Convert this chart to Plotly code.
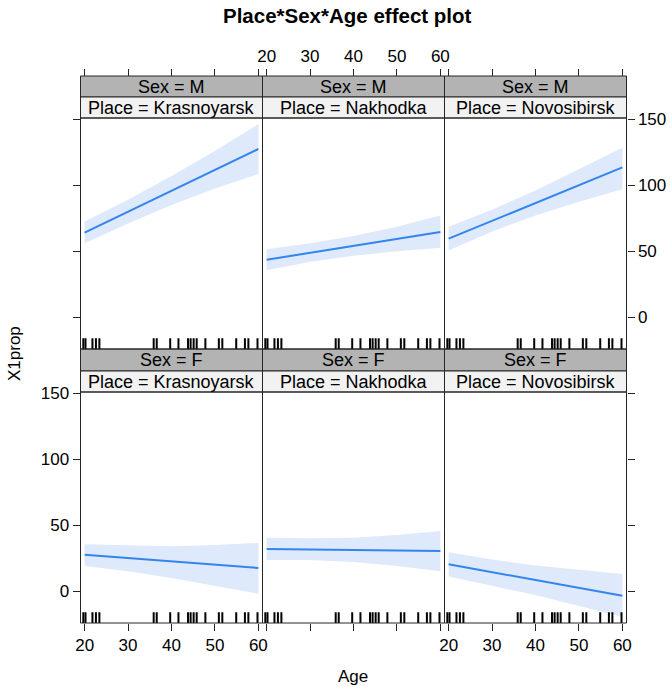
import plotly.graph_objects as go

# ---------------- data ----------------
places = ["Krasnoyarsk", "Nakhodka", "Novosibirsk"]
sexes = ["M", "F"]  # top row = M, bottom row = F
ages = [20, 30, 40, 50, 60]

fit_M_Krasnoyarsk = [64, 80, 96, 112, 127.5]
low_M_Krasnoyarsk = [56, 71, 85, 97.5, 108.5]
upp_M_Krasnoyarsk = [72.5, 89, 107, 126, 146.5]

fit_M_Nakhodka = [43.5, 48.8, 54, 59.3, 64.5]
low_M_Nakhodka = [35.5, 42, 46.5, 50, 52.5]
upp_M_Nakhodka = [51.5, 56, 61.5, 68.5, 77]

fit_M_Novosibirsk = [59.5, 73, 86.5, 100, 113.5]
low_M_Novosibirsk = [50.5, 65, 77, 87.5, 97]
upp_M_Novosibirsk = [68.5, 81.5, 96, 112, 128.5]

fit_F_Krasnoyarsk = [27.5, 25, 22.5, 20, 17.5]
low_F_Krasnoyarsk = [19, 15, 10, 4, -2]
upp_F_Krasnoyarsk = [35.5, 34.5, 34, 35, 36.5]

fit_F_Nakhodka = [32, 31.6, 31.2, 30.8, 30.4]
low_F_Nakhodka = [23.5, 23.5, 22, 19, 15]
upp_F_Nakhodka = [40.5, 40, 40.5, 42.5, 45.5]

fit_F_Novosibirsk = [20.3, 14.3, 8.4, 2.5, -3.5]
low_F_Novosibirsk = [11, 4, -3, -11, -19.5]
upp_F_Novosibirsk = [29.5, 24, 19.5, 16, 13]

rug_ages = [19.7, 20.2, 21.8, 22.6, 23.4, 35.9, 36.6, 39.7, 41.6, 43.8,
            44.4, 45.1, 45.8, 47.8, 50.9, 51.7, 54.9, 56.9, 57.7, 59.8]

x_ticks = [20, 30, 40, 50, 60]
y_ticks = [0, 50, 100, 150]
x_range = [19.05, 60.95]
y_range = [-24.2, 151]

series = {
    ("M", "Krasnoyarsk"): (fit_M_Krasnoyarsk, low_M_Krasnoyarsk, upp_M_Krasnoyarsk),
    ("M", "Nakhodka"): (fit_M_Nakhodka, low_M_Nakhodka, upp_M_Nakhodka),
    ("M", "Novosibirsk"): (fit_M_Novosibirsk, low_M_Novosibirsk, upp_M_Novosibirsk),
    ("F", "Krasnoyarsk"): (fit_F_Krasnoyarsk, low_F_Krasnoyarsk, upp_F_Krasnoyarsk),
    ("F", "Nakhodka"): (fit_F_Nakhodka, low_F_Nakhodka, upp_F_Nakhodka),
    ("F", "Novosibirsk"): (fit_F_Novosibirsk, low_F_Novosibirsk, upp_F_Novosibirsk),
}

# ---------------- geometry / style ----------------
W, H = 672, 687
FONT = "Liberation Sans, Arial, Helvetica, sans-serif"
FS = 17
FS_STRIP = 18
LINE_COL = "#3385EE"
BAND_COL = "rgba(200,218,248,0.6)"
BORDER = "#262626"

col_px = [(80.5, 262.5), (262.5, 444.5), (444.5, 626.5)]
row_plot_px = [(118, 349), (392, 623)]
row_sex_px = [(76, 97), (349, 371)]
row_place_px = [(97, 118), (371, 392)]


def px_x(p):
    return p / W


def px_y(p):
    return 1 - p / H


fig = go.Figure()
layout = dict(
    width=W, height=H,
    margin=dict(l=0, r=0, t=0, b=0, pad=0),
    paper_bgcolor="white", plot_bgcolor="rgba(0,0,0,0)",
    showlegend=False, hovermode=False,
    font=dict(family=FONT, size=FS, color="black"),
)
shapes = []
annotations = []

for r, sex in enumerate(sexes):
    for c, place in enumerate(places):
        k = r * 3 + c + 1
        xa = "x" if k == 1 else f"x{k}"
        ya = "y" if k == 1 else f"y{k}"
        fit, low, upp = series[(sex, place)]
        fig.add_trace(go.Scatter(
            x=ages + ages[::-1], y=upp + low[::-1], fill="toself",
            fillcolor=BAND_COL, line=dict(width=0), mode="lines",
            xaxis=xa, yaxis=ya, hoverinfo="skip"))
        fig.add_trace(go.Scatter(
            x=ages, y=fit, mode="lines", line=dict(color=LINE_COL, width=2),
            xaxis=xa, yaxis=ya, hoverinfo="skip"))

        x0, x1 = col_px[c]
        yt, yb = row_plot_px[r]
        bottom_row = r == 1
        xaxis = dict(
            domain=[px_x(x0), px_x(x1)], range=x_range, anchor=ya,
            showgrid=False, zeroline=False, showline=False,
            tickvals=x_ticks, ticks="outside" if bottom_row else "",
            ticklen=7, tickcolor=BORDER,
            showticklabels=bottom_row and c != 1,
            tickfont=dict(size=FS, family=FONT, color="black"),
            automargin=False,
        )
        yaxis = dict(
            domain=[px_y(yb), px_y(yt)], range=y_range, anchor=xa,
            showgrid=False, zeroline=False, showline=False,
            tickvals=y_ticks, ticks="outside" if c != 1 else "",
            ticklen=7, tickcolor=BORDER,
            side="right" if c == 2 else "left",
            showticklabels=(c == 0 and r == 1) or (c == 2 and r == 0),
            tickfont=dict(size=FS, family=FONT, color="black"),
            automargin=False,
        )
        layout["xaxis" if k == 1 else f"xaxis{k}"] = xaxis
        layout["yaxis" if k == 1 else f"yaxis{k}"] = yaxis

        # rug
        for a in rug_ages:
            shapes.append(dict(type="line", xref=xa, yref=f"{ya} domain",
                               x0=a, x1=a, y0=0, y1=0.047,
                               line=dict(color="black", width=2)))

        # panel border
        shapes.append(dict(type="rect", xref="paper", yref="paper",
                           x0=px_x(x0), x1=px_x(x1), y0=px_y(yb), y1=px_y(yt),
                           fillcolor="rgba(0,0,0,0)",
                           line=dict(color=BORDER, width=1), layer="above"))

        # strips
        for (st, sb), txt, fc in [
            (row_sex_px[r], f"Sex = {sex}", "#B3B3B3"),
            (row_place_px[r], f"Place = {place}", "#F2F2F2"),
        ]:
            shapes.append(dict(type="rect", xref="paper", yref="paper",
                               x0=px_x(x0), x1=px_x(x1), y0=px_y(sb), y1=px_y(st),
                               fillcolor=fc, line=dict(color=BORDER, width=1),
                               layer="below"))
            annotations.append(dict(xref="paper", yref="paper",
                                    x=px_x((x0 + x1) / 2), y=px_y((st + sb) / 2),
                                    text=txt, showarrow=False,
                                    xanchor="center", yanchor="middle",
                                    font=dict(size=FS_STRIP, family=FONT, color="black")))

# top tick axes above the strips
for c in range(3):
    k = 7 + c
    x0, x1 = col_px[c]
    fig.add_trace(go.Scatter(x=[40], y=[0], mode="markers",
                             marker=dict(opacity=0), xaxis=f"x{k}", yaxis="y",
                             hoverinfo="skip"))
    layout[f"xaxis{k}"] = dict(
        domain=[px_x(x0), px_x(x1)], range=x_range, anchor="free",
        position=px_y(76), side="top", showgrid=False, zeroline=False,
        showline=False, tickvals=x_ticks, ticks="outside", ticklen=7,
        tickcolor=BORDER, showticklabels=(c == 1),
        tickfont=dict(size=FS, family=FONT, color="black"),
        automargin=False,
    )

annotations.append(dict(xref="paper", yref="paper", x=px_x(347.7), y=px_y(16),
                        text="<b>Place*Sex*Age effect plot</b>", showarrow=False,
                        xanchor="center", yanchor="middle",
                        font=dict(size=20.5, family=FONT, color="black")))
annotations.append(dict(xref="paper", yref="paper", x=px_x(353), y=px_y(676),
                        text="Age", showarrow=False, xanchor="center",
                        yanchor="middle",
                        font=dict(size=FS, family=FONT, color="black")))
annotations.append(dict(xref="paper", yref="paper", x=px_x(14), y=px_y(354),
                        text="X1prop", showarrow=False, textangle=-90,
                        xanchor="center", yanchor="middle",
                        font=dict(size=FS, family=FONT, color="black")))

layout["shapes"] = shapes
layout["annotations"] = annotations
fig.update_layout(**layout)
fig.write_html(
    "out.html",
    config={"displayModeBar": False, "staticPlot": True},
    post_script="document.body.style.margin='0';document.body.style.overflow='hidden';",
)
